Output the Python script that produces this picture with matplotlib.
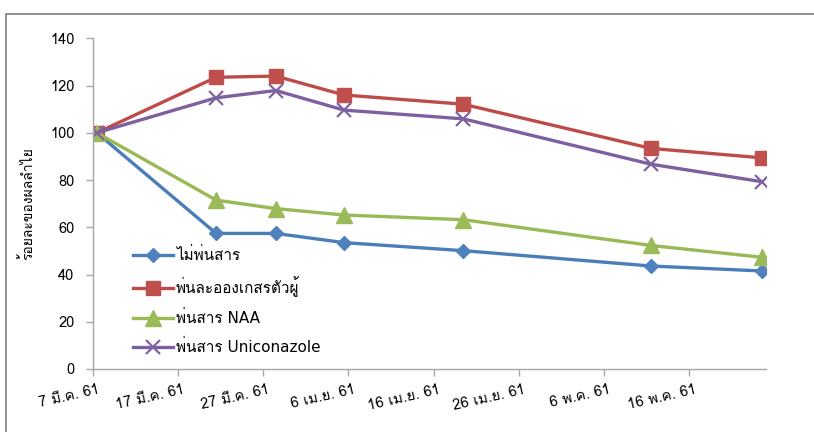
import matplotlib
matplotlib.use("Agg")
import matplotlib.pyplot as plt
import matplotlib.dates as mdates
import matplotlib.transforms as mtrans
from matplotlib.patches import Rectangle
from matplotlib.font_manager import FontProperties
import numpy as np
import datetime as dt

plt.rcParams['font.family'] = ['Loma', 'DejaVu Sans']

# ---- data ----
dates = ["2018-03-07", "2018-03-21", "2018-03-28", "2018-04-05",
         "2018-04-19", "2018-05-11", "2018-05-24"]
no_spray = [100, 57.4, 57.4, 53.5, 50.1, 43.6, 41.5]
pollen_spray = [100, 123.5, 124.0, 116.0, 112.1, 93.4, 89.4]
naa_spray = [100, 71.5, 67.9, 65.2, 63.2, 52.3, 47.3]
unicon_spray = [100, 114.8, 117.9, 109.6, 105.9, 86.7, 79.3]

series_names = ["ไม่พ่นสาร", "พ่นละอองเกสรตัวผู้", "พ่นสาร NAA", "พ่นสาร Uniconazole"]
tick_dates = ["2018-03-07", "2018-03-17", "2018-03-27", "2018-04-06",
              "2018-04-16", "2018-04-26", "2018-05-06", "2018-05-16"]
tick_labels = ["7 มี.ค. 61", "17 มี.ค. 61", "27 มี.ค. 61", "6 เม.ย. 61",
               "16 เม.ย. 61", "26 เม.ย. 61", "6 พ.ค. 61", "16 พ.ค. 61"]
x_start, x_end = "2018-03-07", "2018-05-25"
y_label = "ร้อยละของผลลำไย"

# ---- figure ----
W, H = 814, 432
fig = plt.figure(figsize=(W / 100, H / 100), dpi=100)

# outer chart frame (cropped at right/bottom)
fig.patches.append(Rectangle((6 / W, -0.2), 1.2, 1 - 14 / H + 0.2,
                             transform=fig.transFigure, fill=False,
                             edgecolor="#868686", linewidth=1.3))

ax = fig.add_axes([92.5 / W, 1 - 369 / H, (766 - 92.5) / W, (369 - 38.3) / H])

def dnum(s):
    return mdates.date2num(dt.datetime.strptime(s, "%Y-%m-%d"))

xs = np.array([dnum(d) for d in dates]) + 0.5  # Excel centres points on the day

styles = [
    dict(color="#4A7EBB", marker="D", ms=7, mfc="#4F81BD", mec="#4F81BD"),
    dict(color="#BE4B48", marker="s", ms=10, mfc="#C0504D", mec="#C0504D"),
    dict(color="#98B954", marker="^", ms=11, mfc="#9BBB59", mec="#9BBB59"),
    dict(color="#7D60A0", marker="x", ms=10, mfc="#8064A2", mec="#8064A2", mew=1.6),
]
for vals, name, st in zip([no_spray, pollen_spray, naa_spray, unicon_spray], series_names, styles):
    ax.plot(xs, vals, lw=2.4, label=name, solid_joinstyle="round", **st)

ax.set_xlim(dnum(x_start), dnum(x_end))
ax.set_ylim(0, 140)
ax.set_yticks(np.arange(0, 141, 20))
ax.set_xticks([dnum(d) for d in tick_dates])
ax.set_xticklabels(tick_labels)

for s in ["top", "right"]:
    ax.spines[s].set_visible(False)
for s in ["left", "bottom"]:
    ax.spines[s].set_color("#A6A6A6")
    ax.spines[s].set_linewidth(1.0)

ax.tick_params(axis="both", colors="#A6A6A6", length=5, width=1.0, labelcolor="black",
               labelsize=10)
ax.tick_params(axis="y", pad=8, labelsize=10.5)
ax.tick_params(axis="x", pad=5, labelsize=10.5)

off = mtrans.ScaledTranslation(5 / 100, 0, fig.dpi_scale_trans)
for lab in ax.get_xticklabels():
    lab.set_rotation(13)
    lab.set_ha("right")
    lab.set_va("top")
    lab.set_rotation_mode("anchor")
    lab.set_transform(lab.get_transform() + off)

fig.text(27 / W, 1 - 204 / H, y_label, rotation=90, ha="center", va="center", fontsize=10)

leg_font = FontProperties(family=["DejaVu Sans", "Loma"], size=11)
leg = ax.legend(loc="upper left", bbox_to_anchor=(133 / W, 1 - 247 / H),
                bbox_transform=fig.transFigure, frameon=False, prop=leg_font,
                handlelength=2.6, handletextpad=0.2, labelspacing=0.85,
                borderpad=0, borderaxespad=0)

fig.savefig("out.png", dpi=100)
